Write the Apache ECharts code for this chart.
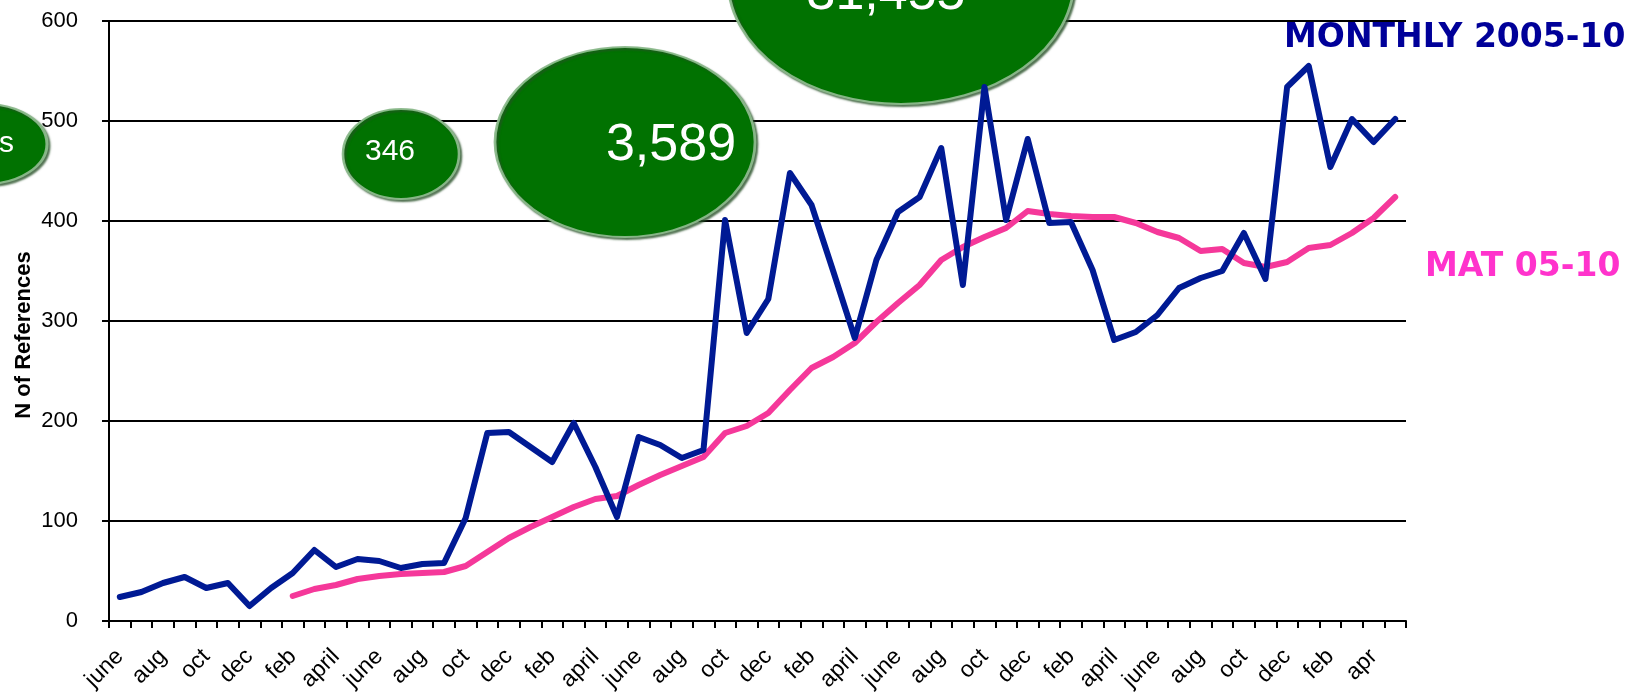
<!DOCTYPE html>
<html>
<head>
<meta charset="utf-8">
<script src="https://cdn.jsdelivr.net/npm/echarts@6/dist/echarts.min.js"></script>
<style>
html,body{margin:0;padding:0;background:#fff;}
#chart{width:1640px;height:700px;}
</style>
</head>
<body>
<div id="chart"></div>
<script>
// Months June 2005 .. May 2010 (labels shown every 2nd month)
var categories = [
 'june','july','aug','sep','oct','nov','dec','jan','feb','mar','april','may',
 'june','july','aug','sep','oct','nov','dec','jan','feb','mar','april','may',
 'june','july','aug','sep','oct','nov','dec','jan','feb','mar','april','may',
 'june','july','aug','sep','oct','nov','dec','jan','feb','mar','april','may',
 'june','july','aug','sep','oct','nov','dec','jan','feb','mar','apr','may'
];
var monthly = [
 24,29,38,44,33,38,15,33,48,71,
 54,62,60,53,57,58,103,188,189,174,
 159,198,154,104,184,176,163,171,401,288,
 322,448,416,350,283,361,409,424,473,336,
 534,401,482,398,399,351,281,289,306,333,
 343,350,388,342,534,555,454,502,479,502
];
var mat = [
 null,null,null,null,null,null,null,null,25,32,
 36,42,45,47,48,49,55,69,83,94,
 104,114,122,125,136,146,155,164,188,195,
 208,231,253,264,278,299,318,336,361,374,
 384,393,410,407,405,404,404,398,389,383,
 370,372,358,354,359,373,376,388,403,424
];
var yTicks = [0,100,200,300,400,500,600];
var bubbleLabels = ['s','346','3,589','31,455'];
var seriesNames = ['MONTHLY 2005-10','MAT 05-10'];
var yAxisTitle = 'N of References';

var FONT = 'Liberation Sans, Arial, sans-serif';
var GREEN = '#017201';

function bubble(cx, cy, rx, ry){
  return {
    type:'circle', z:1,
    x: cx, y: cy, scaleX: rx/ry, scaleY: 1,
    shape:{cx:0, cy:0, r:ry},
    style:{fill:GREEN, stroke:'rgba(140,185,140,0.95)', lineWidth:2,
      shadowBlur:2, shadowOffsetX:2, shadowOffsetY:2, shadowColor:'rgba(40,80,40,0.75)'}
  };
}
function btext(txt, cx, cy, size, align){
  return {
    type:'text', z:2, x:cx, y:cy,
    style:{text:txt, fill:'#fff', font: size+'px '+FONT,
      textAlign: align||'center', textVerticalAlign:'middle'}
  };
}

var chart = echarts.init(document.getElementById('chart'), null, {renderer:'canvas'});
chart.setOption({
  animation:false,
  backgroundColor:'#fff',
  grid:{left:109, right:234, top:21, bottom:79, containLabel:false},
  xAxis:{
    type:'category', data:categories, boundaryGap:true,
    axisLine:{show:true, lineStyle:{color:'#000', width:2}},
    axisTick:{show:true, interval:0, length:7, lineStyle:{color:'#000', width:2}},
    axisLabel:{interval:1, rotate:45, margin:32, fontSize:23, color:'#000', fontFamily:FONT},
    splitLine:{show:false}
  },
  yAxis:{
    type:'value', min:yTicks[0], max:yTicks[yTicks.length-1], interval:100,
    axisLine:{show:true, lineStyle:{color:'#000', width:2}},
    axisTick:{show:true, length:7, lineStyle:{color:'#000', width:2}},
    axisLabel:{fontSize:22, color:'#000', fontFamily:FONT, margin:31},
    splitLine:{show:true, lineStyle:{color:'#000', width:2}}
  },
  series:[
    {name:seriesNames[0], type:'line', data:monthly, symbol:'none', z:5,
     lineStyle:{color:'#001A94', width:6, join:'round', cap:'round'}},
    {name:seriesNames[1], type:'line', data:mat, symbol:'none', z:4, connectNulls:false,
     lineStyle:{color:'#F5389A', width:6, join:'round', cap:'round'}}
  ],
  graphic:[
    {type:'text', z:6, x:24, y:335, rotation:Math.PI/2,
     style:{text:yAxisTitle, fill:'#000', font:'bold 22px '+FONT, textAlign:'center', textVerticalAlign:'middle'}},
    bubble(-15,144,62,40), btext(bubbleLabels[0], 14, 144, 30, 'right'),
    bubble(401,154,58,45), btext(bubbleLabels[1], 390, 152, 30),
    bubble(625,142,130,95), btext(bubbleLabels[2], 671, 146, 52),
    bubble(901,-20,173,124), btext(bubbleLabels[3], 886, -5, 52),
    {type:'text', z:6, x:1284, y:38,
     style:{text:seriesNames[0], fill:'#000099', font:'bold 33px DejaVu Sans, Verdana, sans-serif', textVerticalAlign:'middle'}},
    {type:'text', z:6, x:1425, y:267,
     style:{text:seriesNames[1], fill:'#FF33CC', font:'bold 33px DejaVu Sans, Verdana, sans-serif', textVerticalAlign:'middle'}}
  ]
});
</script>
</body>
</html>
